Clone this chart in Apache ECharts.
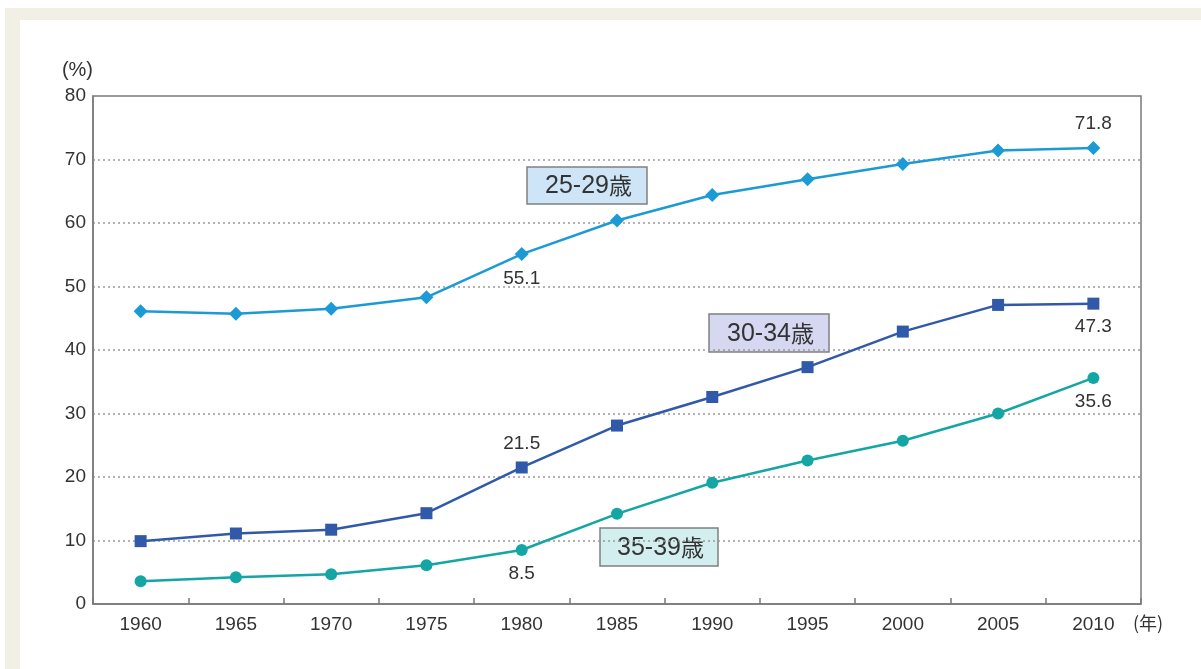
<!DOCTYPE html>
<html>
<head>
<meta charset="utf-8">
<script src="https://cdn.jsdelivr.net/npm/echarts@6/dist/echarts.min.js"></script>
<style>
  html, body { margin: 0; padding: 0; background: #ffffff; }
  #chart { width: 1201px; height: 669px; }
</style>
</head>
<body>
<div id="chart"></div>
<script>
// Survey years on the category axis
const years = ['1960', '1965', '1970', '1975', '1980', '1985', '1990', '1995', '2000', '2005', '2010'];

// Unmarried rate (%) by age group
const age25to29 = [46.1, 45.7, 46.5, 48.3, 55.1, 60.4, 64.4, 66.9, 69.3, 71.4, 71.8];
const age30to34 = [9.9, 11.1, 11.7, 14.3, 21.5, 28.1, 32.6, 37.3, 42.9, 47.1, 47.3];
const age35to39 = [3.6, 4.2, 4.7, 6.1, 8.5, 14.2, 19.1, 22.6, 25.7, 30.0, 35.6];

// Age ranges shown in the boxed tags (followed by 歳)
const groupRanges = ['25-29', '30-34', '35-39'];
const ageSuffix = '歳';

// Which points carry a value label, and where
const labelled25 = { 4: 'bottom', 10: 'top' };
const labelled30 = { 4: 'top', 10: 'bottom' };
const labelled35 = { 4: 'bottom', 10: 'bottom' };

const NUM_FONT = '"Liberation Sans", Arial, sans-serif';
const CJK_FONT = '"Noto Sans CJK JP", sans-serif';
const TEXT = '#333333';

function withLabels(values, where) {
  return values.map((v, i) => {
    if (where[i] === undefined) return v;
    return {
      value: v,
      label: {
        show: true,
        position: where[i],
        distance: 8,
        fontFamily: NUM_FONT,
        fontSize: 19,
        color: TEXT
      }
    };
  });
}

function lineSeries(name, values, where, color, symbol, size) {
  return {
    name: name,
    type: 'line',
    data: withLabels(values, where),
    symbol: symbol,
    symbolSize: size,
    lineStyle: { color: color, width: 2.5 },
    itemStyle: { color: color },
    label: { show: false },
    z: 3
  };
}

// Boxed age-group tag: range digits and the 歳 suffix drawn as two texts
// so the CJK glyph sits on the same visual centre line as the digits.
function tag(range, x, y, w, h, fill) {
  const split = w / 2 + 33;
  return {
    type: 'group',
    x: x, y: y,
    z: 10,
    children: [
      { type: 'rect', shape: { x: 0, y: 0, width: w, height: h },
        style: { fill: fill, stroke: '#808080', lineWidth: 1.5 } },
      { type: 'text', x: split - 11, y: h / 2 + 1,
        style: { text: range, font: '25px ' + NUM_FONT, fill: TEXT,
                 align: 'right', verticalAlign: 'middle' } },
      { type: 'text', x: split - 11, y: h / 2,
        style: { text: ageSuffix, font: '23px ' + CJK_FONT, fill: TEXT,
                 align: 'left', verticalAlign: 'middle' } }
    ]
  };
}

const chart = echarts.init(document.getElementById('chart'), null, { renderer: 'canvas' });

chart.setOption({
  backgroundColor: '#ffffff',
  animation: false,
  grid: {
    left: 93, right: 60, top: 96, bottom: 65,
    show: true,
    borderColor: '#7a7a7a',
    borderWidth: 1.5,
    backgroundColor: 'transparent'
  },
  xAxis: {
    type: 'category',
    data: years,
    boundaryGap: true,
    name: '(年)',
    nameLocation: 'end',
    nameGap: 0,
    nameTextStyle: { fontFamily: CJK_FONT, fontSize: 18, color: TEXT,
                     align: 'left', verticalAlign: 'top', padding: [10, 0, 0, -8] },
    axisLine: { lineStyle: { color: '#7a7a7a', width: 1.5 } },
    axisTick: { show: true, inside: true, length: 6, lineStyle: { color: '#7a7a7a', width: 1.5 } },
    axisLabel: { fontFamily: NUM_FONT, fontSize: 19, color: TEXT, margin: 11 },
    splitLine: { show: false }
  },
  yAxis: {
    type: 'value',
    min: 0, max: 80, interval: 10,
    name: '(%)',
    nameLocation: 'end',
    nameGap: 16,
    nameTextStyle: { fontFamily: NUM_FONT, fontSize: 20, color: TEXT, align: 'right' },
    axisLine: { show: true, lineStyle: { color: '#7a7a7a', width: 1.5 } },
    axisTick: { show: false },
    axisLabel: { fontFamily: NUM_FONT, fontSize: 19, color: TEXT, margin: 7 },
    splitLine: { show: true, lineStyle: { color: '#9a9a9a', type: [2, 3], width: 1.5 } }
  },
  series: [
    lineSeries(groupRanges[0] + ageSuffix, age25to29, labelled25, '#1c9ad6', 'diamond', 14),
    lineSeries(groupRanges[1] + ageSuffix, age30to34, labelled30, '#3159aa', 'rect', 12),
    lineSeries(groupRanges[2] + ageSuffix, age35to39, labelled35, '#14a5a5', 'circle', 12)
  ],
  graphic: [
    // beige page frame
    { type: 'rect', z: -10, silent: true, shape: { x: 5, y: 8, width: 1196, height: 12 }, style: { fill: '#f2efe5' } },
    { type: 'rect', z: -10, silent: true, shape: { x: 5, y: 8, width: 15, height: 661 }, style: { fill: '#f2efe5' } },
    tag(groupRanges[0], 527, 167, 120, 37, '#cde5f7'),
    tag(groupRanges[1], 709, 314, 120, 38, '#d6d8f1'),
    tag(groupRanges[2], 600, 528, 118, 38, '#d2eeee')
  ]
});
</script>
</body>
</html>
